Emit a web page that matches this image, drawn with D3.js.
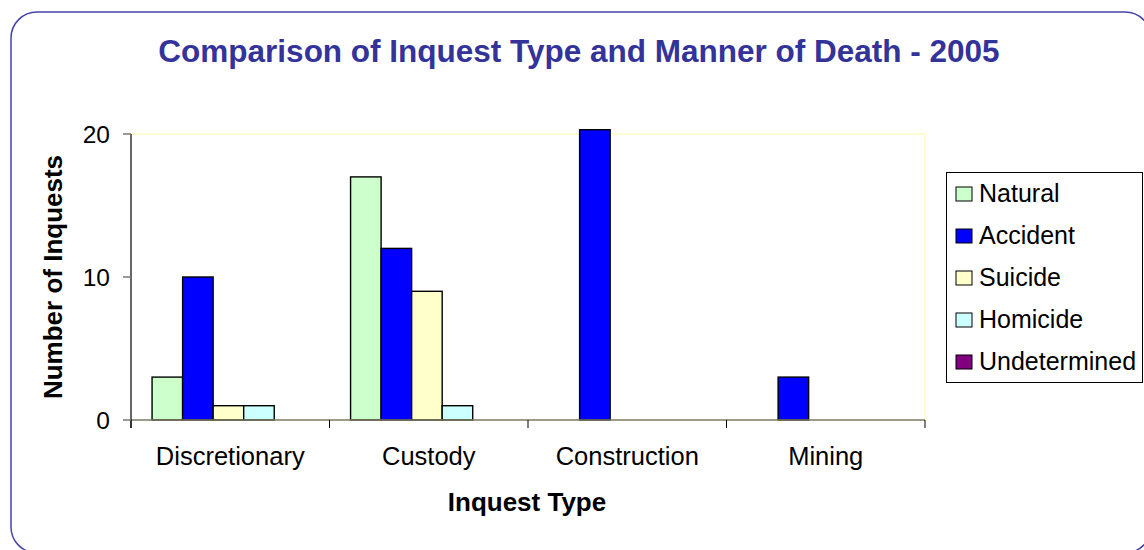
<!DOCTYPE html>
<html><head><meta charset="utf-8">
<script src="https://cdn.jsdelivr.net/npm/d3@7"></script>
<style>
html,body{margin:0;padding:0;background:#fff;}
svg{display:block;font-family:Arial,"Liberation Sans",sans-serif;}
</style></head>
<body>
<svg id="chart" width="1144" height="550"></svg>
<script>
const categories = ["Discretionary","Custody","Construction","Mining"];
const seriesNames = ["Natural","Accident","Suicide","Homicide","Undetermined"];
const natural      = [3, 17, 0, 0];
const accident     = [10, 12, 20.3, 3];
const suicide      = [1, 9, 0, 0];
const homicide     = [1, 1, 0, 0];
const undetermined = [0, 0, 0, 0];
const seriesColors = ["#CCFFCC","#0000FF","#FFFFCC","#CCFFFF","#800080"];
const yTicks = [0, 10, 20];

const seriesValues = [natural, accident, suicide, homicide, undetermined];
const svg = d3.select("#chart");

// outer rounded border
svg.append("rect").attr("x",11).attr("y",12).attr("width",1140).attr("height",541)
  .attr("rx",26).attr("ry",26).attr("fill","#fff").attr("stroke","#4444AA").attr("stroke-width",1.5);

const L=131, R=925, T=134, B=420;
const x0 = d3.scaleBand().domain(categories).range([L,R]).paddingInner(0).paddingOuter(0);
const x1 = d3.scaleBand().domain(seriesNames).range([0,x0.bandwidth()]).paddingInner(0).paddingOuter(0.75).align(0.46);
const y = d3.scaleLinear().domain([0,20]).range([B,T]);

// plot area border (light yellow top/right)
svg.append("path").attr("d",`M${L},${T}H${R}V${B}`).attr("fill","none").attr("stroke","#FFFFC0").attr("stroke-width",1.5);

// bars
seriesNames.forEach((s,si)=>{
  svg.append("g").selectAll("rect").data(categories.map((c,ci)=>({c,v:seriesValues[si][ci]})).filter(d=>d.v>0))
    .join("rect")
    .attr("x",d=>x0(d.c)+x1(s))
    .attr("y",d=>y(d.v))
    .attr("width",x1.bandwidth())
    .attr("height",d=>y(0)-y(d.v))
    .attr("fill",seriesColors[si])
    .attr("stroke","#000").attr("stroke-width",1.4);
});

// x axis line
svg.append("line").attr("x1",L).attr("x2",R).attr("y1",B).attr("y2",B).attr("stroke","#7a7a60").attr("stroke-width",1.5);
// category tick marks (boundaries)
const bounds = categories.map(c=>x0(c)).concat([R]);
svg.append("g").selectAll("line").data(bounds).join("line")
  .attr("x1",d=>d).attr("x2",d=>d).attr("y1",B).attr("y2",B+8).attr("stroke","#000").attr("stroke-width",1);
// category labels
svg.append("g").selectAll("text").data(categories).join("text")
  .attr("x",c=>x0(c)+x0.bandwidth()/2).attr("y",465).attr("text-anchor","middle")
  .attr("font-size",25.5).attr("fill","#000").text(c=>c);

// y axis
svg.append("line").attr("x1",L).attr("x2",L).attr("y1",T).attr("y2",B+8).attr("stroke","#000").attr("stroke-width",1.2);
svg.append("g").selectAll("line").data(yTicks).join("line")
  .attr("x1",L-8).attr("x2",L).attr("y1",d=>y(d)).attr("y2",d=>y(d)).attr("stroke","#777").attr("stroke-width",1.5);
svg.append("g").selectAll("text").data(yTicks).join("text")
  .attr("x",L-21).attr("y",d=>y(d)).attr("dy","0.36em").attr("text-anchor","end")
  .attr("font-size",24.5).attr("fill","#000").text(d=>d);

// axis titles
svg.append("text").attr("transform","translate(62,277) rotate(-90)").attr("text-anchor","middle")
  .attr("font-size",26).attr("font-weight","bold").attr("fill","#000").text("Number of Inquests");
svg.append("text").attr("x",527).attr("y",511).attr("text-anchor","middle")
  .attr("font-size",26).attr("font-weight","bold").attr("fill","#000").text("Inquest Type");

// title
svg.append("text").attr("x",579).attr("y",62).attr("text-anchor","middle")
  .attr("font-size",31.5).attr("font-weight","bold").attr("fill","#333399")
  .text("Comparison of Inquest Type and Manner of Death - 2005");

// legend
const lg = svg.append("g");
lg.append("rect").attr("x",946.5).attr("y",172.5).attr("width",196).attr("height",210)
  .attr("fill","#fff").attr("stroke","#000").attr("stroke-width",1);
const ly = d3.scalePoint().domain(seriesNames).range([193,361]);
lg.selectAll("rect.sw").data(seriesNames).join("rect").attr("class","sw")
  .attr("x",956).attr("y",s=>ly(s)-6).attr("width",16).attr("height",14)
  .attr("fill",(s,i)=>seriesColors[i]).attr("stroke","#000").attr("stroke-width",1);
lg.selectAll("text").data(seriesNames).join("text")
  .attr("x",979).attr("y",s=>ly(s)).attr("dy","0.36em")
  .attr("font-size",25).attr("fill","#000").text(s=>s);
</script>
</body></html>
